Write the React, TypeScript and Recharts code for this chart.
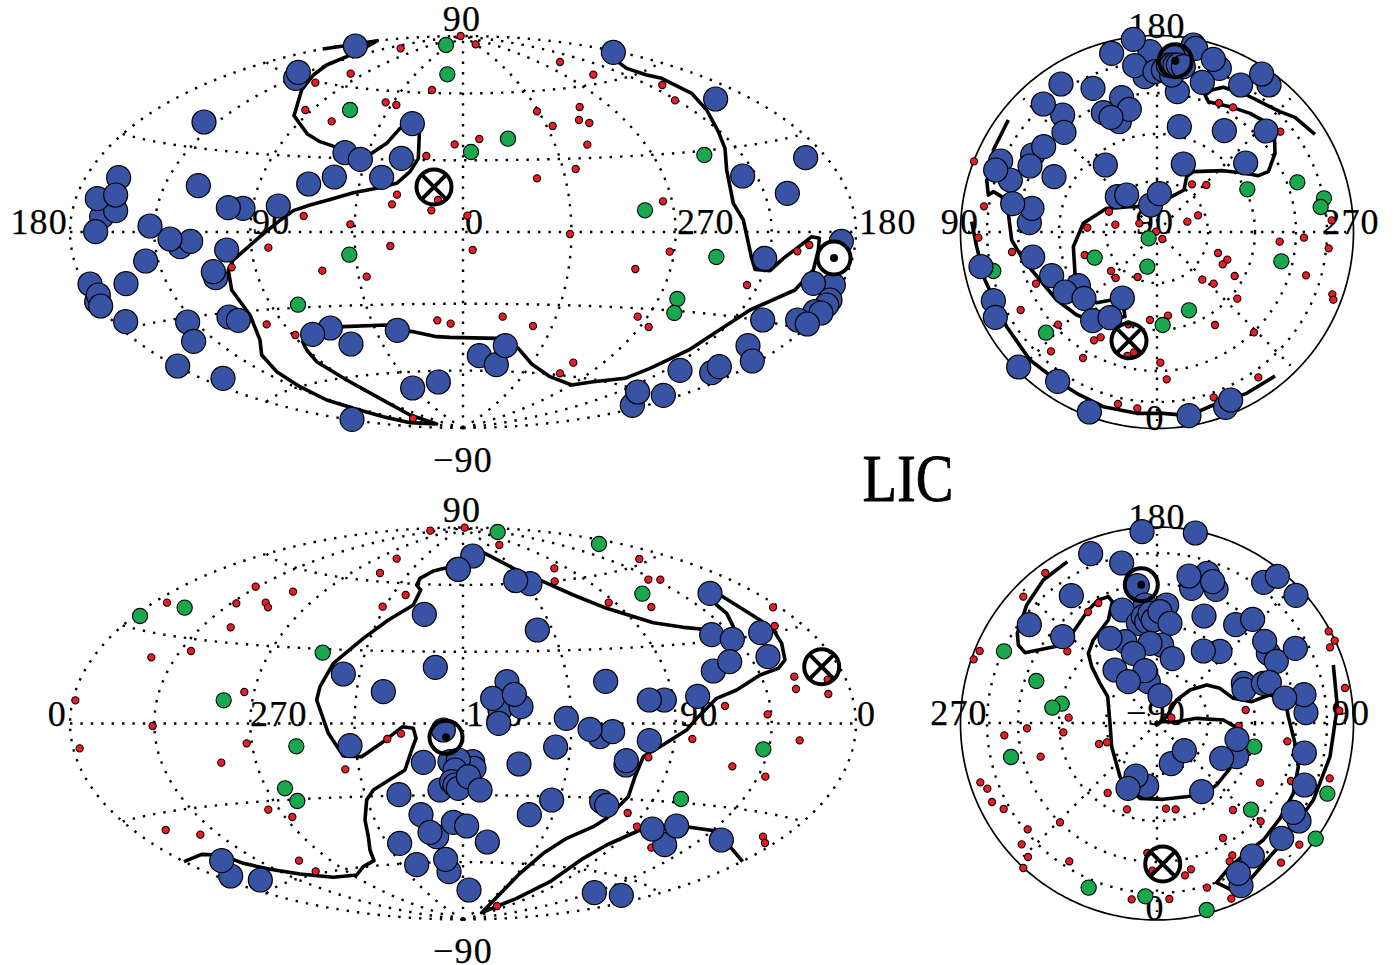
import React from 'react';
import { ScatterChart, Scatter, XAxis, YAxis } from 'recharts';

type P = [number, number];
// All readings below are in units of 1/3 figure pixel, relative to a panel section origin.
const topWestBlue: P[] = [[1066,138],[887,235],[895,217],[612,366],[1237,371],[1035,458],[1081,478],[1204,475],[1145,532],[1003,531],[926,552],[356,533],[305,650],[347,632],[292,596],[347,585],[287,695],[595,557],[729,625],[685,623],[835,618],[450,678],[541,740],[572,724],[510,717],[437,783],[680,750],[647,833],[640,815],[270,852],[378,851],[290,905],[295,885],[302,918],[377,965],[563,966],[687,951],[715,961],[581,1024],[533,1098],[669,1135],[991,984],[938,1003],[1053,1032],[1192,991],[1238,1164],[1315,1146],[1056,1258]];
const topEastBlue: P[] = [[490,157],[797,297],[1067,473],[878,528],[1012,580],[944,775],[1174,724],[1150,855],[1090,850],[1140,900],[1130,915],[1095,935],[1113,939],[938,960],[1043,960],[1072,972],[894,1037],[907,1083],[785,1118],[808,1100],[690,1111],[547,1216],[563,1176],[640,1186],[88,1067],[139,1094],[166,1037]];
const topWestGreen: P[] = [[1338,135],[1342,223],[1050,330],[1048,764],[894,914]];
const topEastGreen: P[] = [[174,416],[63,456],[763,465],[585,631],[799,771],[682,897],[673,939]];
const topWestRed: P[] = [[1382,108],[1202,145],[1052,221],[946,248],[1296,270],[1157,307],[1189,315],[916,330],[995,364],[1364,433],[1279,468],[1191,584],[1176,613],[1314,600],[1294,631],[1402,647],[911,648],[1051,673],[805,743],[1171,738],[695,802],[967,812],[1100,830],[800,973],[886,1005],[1312,961],[1352,971],[1239,1255]];
const topEastRed: P[] = [[77,133],[330,186],[430,224],[637,255],[675,301],[261,334],[389,321],[387,360],[418,369],[308,378],[88,417],[412,434],[377,507],[261,535],[639,604],[360,702],[68,750],[659,755],[556,807],[1042,754],[1078,735],[891,855],[158,950],[249,978],[563,950],[596,981],[370,1088],[330,1120]];
const topWestLine: P[] = [[968,147],[1030,138],[1132,122],[1100,140],[1040,170],[980,195],[940,225],[905,270],[882,347],[922,402],[960,425],[1010,442],[1035,458],[1115,460],[1160,430],[1200,385],[1237,371],[1258,400],[1255,475],[1230,515],[1190,550],[1130,565],[1060,578],[985,600],[930,615],[880,632],[835,665],[780,710],[700,780],[685,810],[695,870],[750,945],[780,1020],[785,1065],[830,1115],[900,1160],[980,1200],[1060,1225],[1150,1250],[1230,1268],[1310,1272],[1230,1245],[1130,1190],[1040,1140],[950,1085],[920,1050],[908,1025],[938,1003],[1030,980],[1160,975],[1192,991],[1240,995],[1310,1010],[1350,1012]];
const topEastLine: P[] = [[0,1012],[140,1015],[166,1037],[205,1045],[245,1092],[300,1130],[365,1155],[430,1145],[525,1135],[600,1105],[720,1048],[800,995],[900,930],[1035,870],[1090,810],[1105,750],[1108,715],[1085,710],[1040,745],[1000,775],[960,812],[915,808],[905,775],[880,660],[850,610],[830,510],[825,445],[805,395],[770,330],[725,280],[635,235],[590,225],[530,205],[490,175]];

const northPolarBlue: P[] = [[545,160],[660,155],[610,118],[790,135],[797,145],[868,205],[850,178],[817,247],[1017,255],[932,255],[995,222],[742,275],[645,230],[614,197],[675,215],[700,210],[725,225],[730,170],[715,195],[725,195],[735,195],[745,195],[760,200],[393,252],[489,265],[398,345],[340,312],[575,293],[568,365],[520,338],[598,328],[543,352],[748,380],[883,392],[1008,393],[402,397],[308,465],[341,440],[526,495],[760,492],[947,489],[212,483],[241,540],[300,498],[197,510],[372,530],[562,590],[590,585],[662,615],[688,581],[298,668],[306,625],[248,611],[308,771],[153,800],[365,827],[445,857],[405,876],[462,895],[577,894],[190,902],[196,952],[488,962],[540,953],[266,1101],[383,1144],[478,1236],[777,1247],[887,1222],[902,1200]];
const northPolarGreen: P[] = [[952,568],[1102,547],[1182,595],[1172,621],[656,715],[494,773],[652,800],[190,813],[1054,784],[777,931],[698,975],[348,998]];
const northPolarRed: P[] = [[867,309],[909,322],[1051,395],[786,553],[829,555],[132,484],[162,619],[537,635],[628,670],[556,674],[472,683],[772,665],[804,646],[1205,661],[145,713],[678,695],[697,717],[1122,713],[1049,725],[1196,745],[246,756],[464,765],[864,759],[892,779],[878,793],[543,813],[557,834],[623,831],[817,839],[851,851],[914,828],[1128,826],[318,851],[1207,883],[1210,899],[922,896],[272,930],[384,974],[595,973],[660,960],[714,947],[855,975],[972,997],[512,1012],[492,1021],[363,1054],[459,1074],[612,1057],[592,1068],[691,1088],[710,1138],[985,1132],[851,1192],[564,1212],[622,1225]];
const northPolarLineA: P[] = [[1155,403],[1095,352],[1050,335],[1000,310],[950,285],[880,262],[845,270],[825,285],[835,305],[900,320],[960,340],[1005,365],[1033,400],[1035,460],[1015,515],[985,527],[947,520],[880,512],[790,515],[770,530],[762,570],[725,590],[688,581],[660,620],[600,620],[530,625],[460,670],[430,740],[435,820],[460,880],[500,908],[577,894],[585,950],[540,953],[488,962],[440,945],[380,900],[330,840],[280,780],[245,720],[235,640],[215,590],[190,575],[175,585],[170,540],[197,510],[190,450],[235,360]];
const northPolarLineB: P[] = [[125,665],[140,740],[165,840],[230,980],[300,1080],[383,1144],[440,1180],[520,1220],[620,1240],[700,1240],[777,1247],[850,1215],[950,1180],[1035,1128]];

const lowWestBlue: P[] = [[1273,373],[1374,238],[1306,532],[1150,605],[1030,552],[1050,767],[1330,720],[1270,817],[1197,914],[1263,974],[1310,1040],[1290,1027],[1360,997],[1199,1060],[1250,1124],[1347,1145],[1337,1108],[692,1158],[665,1112],[781,1170]];
const lowEastBlue: P[] = [[68,198],[25,238],[240,281],[197,272],[262,420],[780,310],[785,434],[847,448],[932,428],[954,500],[790,543],[839,515],[743,619],[467,574],[171,575],[150,660],[213,650],[128,625],[193,613],[146,700],[643,630],[598,630],[349,685],[450,740],[488,725],[420,718],[598,752],[317,771],[207,822],[528,825],[529,812],[455,935],[470,946],[305,930],[238,974],[50,1008],[112,1056],[0,815],[68,815],[72,835],[25,810],[-30,900],[15,840],[5,875],[15,885],[25,895],[55,860],[90,900],[644,1064],[680,1008],[607,1017],[814,1050],[433,1208],[514,1216],[57,1200]];
const lowWestGreen: P[] = [[420,378],[554,353],[968,488],[671,631],[889,769],[855,895],[892,933]];
const lowEastGreen: P[] = [[143,126],[447,162],[577,311],[940,778],[693,927]];
const lowWestRed: P[] = [[1291,122],[1394,113],[1190,206],[1140,249],[879,305],[767,290],[709,340],[797,338],[804,352],[501,338],[692,412],[1217,315],[1148,350],[573,483],[454,502],[733,606],[226,631],[458,708],[239,775],[740,760],[664,818],[1162,747],[1203,731],[1036,838],[805,959],[877,981],[497,1020],[601,1034],[897,1112],[947,1144]];
const lowEastRed: P[] = [[148,165],[313,235],[314,274],[568,207],[595,269],[631,269],[476,338],[604,351],[969,352],[974,408],[1033,560],[1038,597],[1133,569],[1135,612],[825,648],[953,673],[727,747],[1049,751],[595,802],[847,829],[946,860],[533,969],[561,1010],[604,1073],[939,1040],[945,1059],[141,1248]];
const lowWestLine: P[] = [[552,1115],[605,1093],[665,1095],[730,1120],[810,1138],[900,1152],[1000,1162],[1070,1155],[1090,1130],[1122,1112],[1110,1080],[1105,1040],[1095,990],[1100,930],[1120,900],[1215,840],[1235,780],[1248,745],[1240,715],[1208,710],[1150,755],[1085,800],[1030,798],[985,730],[950,630],[960,590],[1000,520],[1090,445],[1165,390],[1240,345],[1262,300],[1250,285],[1260,265],[1300,243],[1374,225],[1418,175]];
const lowEastLine: P[] = [[68,175],[105,190],[190,235],[280,275],[370,315],[470,355],[610,398],[700,412],[785,420],[847,440],[850,410],[830,370],[800,345],[780,310],[815,318],[930,390],[970,420],[995,460],[1005,510],[985,535],[930,555],[860,600],[800,625],[745,680],[710,720],[630,770],[580,800],[555,860],[535,920],[470,985],[430,1010],[350,1045],[280,1090],[210,1150],[95,1268],[200,1225],[300,1175],[400,1105],[470,1065],[570,1020],[607,1017],[680,1008],[720,1012],[814,1025],[840,1070],[878,1115]];

const southPolarBlue: P[] = [[636,125],[796,129],[482,191],[575,219],[622,287],[424,317],[298,404],[398,440],[832,250],[785,295],[858,298],[777,258],[848,275],[1001,277],[1042,259],[1098,316],[822,378],[917,404],[968,388],[645,345],[710,345],[577,360],[625,400],[640,380],[650,395],[660,370],[670,390],[690,365],[720,400],[695,465],[585,455],[540,445],[660,460],[610,490],[727,506],[870,484],[820,483],[1015,490],[1004,454],[1039,514],[1096,475],[655,575],[555,540],[645,542],[595,575],[690,617],[940,580],[942,598],[1000,580],[1018,577],[1128,668],[1122,614],[1064,624],[920,800],[875,805],[921,748],[724,821],[763,782],[1123,789],[1123,885],[650,888],[618,858],[594,895],[815,905],[1107,993],[1090,967],[1055,1045],[967,1098],[933,1187],[925,1150]];
const southPolarGreen: P[] = [[222,484],[319,573],[395,641],[367,653],[243,801],[973,770],[1192,911],[963,959],[1157,1046],[476,1193],[646,1219],[830,1260]];
const southPolarRed: P[] = [[346,249],[280,320],[505,339],[474,366],[149,483],[131,508],[412,484],[1196,424],[1214,452],[1200,472],[1245,594],[1228,662],[947,660],[724,683],[416,683],[291,715],[223,736],[400,727],[507,762],[531,757],[926,708],[1072,754],[332,800],[151,877],[172,896],[186,936],[221,957],[533,909],[591,958],[708,956],[737,958],[909,960],[990,878],[1083,873],[1199,865],[992,994],[390,997],[879,1044],[293,1018],[275,1063],[294,1101],[418,1114],[280,1134],[1108,1064],[1053,1118],[907,1096],[899,1114],[652,1089],[667,1142],[783,1138],[765,1156],[831,1193],[605,1228],[718,1227],[904,1226]];
const southPolarLine: P[] = [[412,215],[340,270],[290,345],[262,430],[265,465],[285,488],[398,465],[430,425],[475,360],[505,330],[535,320],[547,335],[535,390],[490,450],[475,490],[485,530],[510,580],[533,620],[540,700],[545,770],[570,860],[594,895],[630,925],[700,928],[815,915],[860,885],[900,835],[921,748],[915,710],[880,690],[800,685],[740,695],[695,695],[680,705],[710,680],[740,630],[780,600],[830,585],[870,595],[910,625],[965,635],[1018,615],[1064,624],[1075,680],[1095,760],[1105,830],[1090,910],[1050,985],[1000,1050],[960,1080],[900,1130],[860,1178],[925,1210],[985,1140],[1050,1065],[1100,1000],[1150,930],[1200,800],[1222,650],[1210,525]];

const axisLabels = [
  { x: 462, y: 19, t: '90', a: 'middle' }, { x: 68, y: 222, t: '180', a: 'end' }, { x: 252, y: 222, t: '90', a: 'start' },
  { x: 465, y: 222, t: '0', a: 'start' }, { x: 677, y: 222, t: '270', a: 'start' }, { x: 859, y: 222, t: '180', a: 'start' },
  { x: 463, y: 460, t: '−90', a: 'middle' },
  { x: 1157, y: 26, t: '180', a: 'middle' }, { x: 960, y: 222, t: '90', a: 'middle' }, { x: 1155, y: 222, t: '90', a: 'middle' },
  { x: 1351, y: 222, t: '270', a: 'middle' }, { x: 1155, y: 418, t: '0', a: 'middle' },
  { x: 462, y: 510, t: '90', a: 'middle' }, { x: 67, y: 714, t: '0', a: 'end' }, { x: 250, y: 714, t: '270', a: 'start' },
  { x: 466, y: 714, t: '180', a: 'start' }, { x: 680, y: 714, t: '90', a: 'start' }, { x: 857, y: 714, t: '0', a: 'start' },
  { x: 463, y: 951, t: '−90', a: 'middle' },
  { x: 1157, y: 517, t: '180', a: 'middle' }, { x: 959, y: 713, t: '270', a: 'middle' }, { x: 1156, y: 713, t: '−90', a: 'middle' },
  { x: 1351, y: 713, t: '90', a: 'middle' }, { x: 1155, y: 908, t: '0', a: 'middle' },
];
const crossMarks = [{ x: 434, y: 187 }, { x: 1129, y: 340.7 }, { x: 821.7, y: 666.7 }, { x: 1162.7, y: 864 }];
const sunMarksOpen = [{ x: 1175.3, y: 60.7 }, { x: 446, y: 737.3 }, { x: 1141.3, y: 584.7 }];
const sunMarksFilled = [{ x: 834, y: 258 }];

const sec = (pts: P[], ox: number, oy: number) => pts.map(([a, b]) => ({ x: ox + a / 3, y: oy + b / 3 }));

const X1 = 0, X2 = 450, X3 = 930, Y1 = 0, Y2 = 490;
const redAll = [...sec(topWestRed, X1, Y1), ...sec(topEastRed, X2, Y1), ...sec(northPolarRed, X3, Y1), ...sec(lowWestRed, X1, Y2), ...sec(lowEastRed, X2, Y2), ...sec(southPolarRed, X3, Y2)];
const greenAll = [...sec(topWestGreen, X1, Y1), ...sec(topEastGreen, X2, Y1), ...sec(northPolarGreen, X3, Y1), ...sec(lowWestGreen, X1, Y2), ...sec(lowEastGreen, X2, Y2), ...sec(southPolarGreen, X3, Y2)];
const blueAll = [...sec(topWestBlue, X1, Y1), ...sec(topEastBlue, X2, Y1), ...sec(northPolarBlue, X3, Y1), ...sec(lowWestBlue, X1, Y2), ...sec(lowEastBlue, X2, Y2), ...sec(southPolarBlue, X3, Y2)];
const tracks = [
  [...sec(topWestLine, X1, Y1), ...sec(topEastLine, X2, Y1)],
  sec(northPolarLineA, X3, Y1), sec(northPolarLineB, X3, Y1),
  [...sec(lowWestLine, X1, Y2)], sec(lowEastLine, X2, Y2), sec(southPolarLine, X3, Y2),
];

// Map grid geometry (not data): Hammer–Aitoff and equal-area polar graticules.
const D = Math.PI / 180;
const hammer = (lon: number, lat: number, cx: number, cy: number) => {
  const k = Math.sqrt(1 + Math.cos(lat * D) * Math.cos((lon * D) / 2));
  return { x: cx + (393 / 2.828) * (2.828 * Math.cos(lat * D) * Math.sin((lon * D) / 2)) / k, y: cy - (196 / 1.414) * (1.414 * Math.sin(lat * D)) / k };
};
const range = (a: number, b: number, s: number) => { const o: number[] = []; for (let v = a; v <= b + 1e-6; v += s) o.push(v); return o; };
const hammerGrid = (cx: number, cy: number) => [
  ...[-180, -135, -90, -45, 0, 45, 90, 135, 180].map((lon) => range(-90, 90, 2).map((lat) => hammer(lon, lat, cx, cy))),
  ...[-60, -30, 0, 30, 60].map((lat) => range(-180, 180, 3).map((lon) => hammer(lon, lat, cx, cy))),
];
const polarGrid = (cx: number, cy: number) => [
  ...[51, 98, 139, 170].map((r) => range(0, 360, 2).map((t) => ({ x: cx + r * Math.cos(t * D), y: cy + r * Math.sin(t * D) }))),
  ...[0, 45, 90, 135, 180, 225, 270, 315].map((t) => [{ x: cx, y: cy }, { x: cx + 189 * Math.cos(t * D), y: cy + 189 * Math.sin(t * D) }]),
];
const limb = (cx: number, cy: number) => range(0, 360, 1).map((t) => ({ x: cx + 196.5 * Math.cos(t * D), y: cy + 196.5 * Math.sin(t * D) }));

const grid = [...hammerGrid(463, 232), ...hammerGrid(463, 723.5), ...polarGrid(1157, 232), ...polarGrid(1157, 723)];
const limbs = [limb(1157, 232), limb(1157, 723.5)];

const none = () => <g />;
const dot = (r: number, fill: string, sw: number) => (p: any) => <circle cx={p.cx} cy={p.cy} r={r} fill={fill} stroke="#000" strokeWidth={sw} />;
const crossShape = (p: any) => {
  const r = 17.5, q = r * 0.707;
  return (
    <g fill="none" stroke="#000" strokeWidth={4}>
      <circle cx={p.cx} cy={p.cy} r={r} />
      <path d={`M${p.cx - q} ${p.cy - q}L${p.cx + q} ${p.cy + q}M${p.cx - q} ${p.cy + q}L${p.cx + q} ${p.cy - q}`} />
    </g>
  );
};
const sunShape = (fill: string) => (p: any) => (
  <g>
    <circle cx={p.cx} cy={p.cy} r={16.5} fill={fill} stroke="#000" strokeWidth={4} />
    <circle cx={p.cx} cy={p.cy} r={4} fill="#000" />
  </g>
);
const labelShape = (p: any) => (
  <text x={p.payload.x} y={p.cy} textAnchor={p.payload.a} dominantBaseline="central" fontFamily="'Liberation Serif', serif" fontSize={36} letterSpacing={1.2} stroke="#000" strokeWidth={0.25} fill="#000">
    {p.payload.t}
  </text>
);
const titleData = [{ x: 908, y: 478, t: 'LIC' }];
const titleShape = (p: any) => (
  <text x={p.cx} y={p.cy} textAnchor="middle" dominantBaseline="central" fontFamily="'Liberation Serif', serif" fontSize={68} textLength={91} lengthAdjust="spacingAndGlyphs" stroke="#000" strokeWidth={0.8} fill="#000">
    {p.payload.t}
  </text>
);

export default function App() {
  return (
    <div style={{ position: 'absolute', left: 0, top: 0, background: '#fff' }}>
      <ScatterChart width={1395} height={965} margin={{ top: 0, right: 0, bottom: 0, left: 0 }}>
        <XAxis type="number" dataKey="x" domain={[0, 1395]} hide />
        <YAxis type="number" dataKey="y" domain={[0, 965]} reversed hide />
        <Scatter data={axisLabels} shape={labelShape} isAnimationActive={false} />
        <Scatter data={titleData} shape={titleShape} isAnimationActive={false} />
        {grid.map((g, i) => (
          <Scatter key={'g' + i} data={g} shape={none} line={{ stroke: '#000', strokeWidth: 2.4, strokeDasharray: '2.4 8', fill: 'none' }} isAnimationActive={false} />
        ))}
        {limbs.map((g, i) => (
          <Scatter key={'l' + i} data={g} shape={none} line={{ stroke: '#000', strokeWidth: 1.7, fill: 'none' }} isAnimationActive={false} />
        ))}
        {tracks.map((g, i) => (
          <Scatter key={'t' + i} data={g} shape={none} line={{ stroke: '#000', strokeWidth: 3.6, fill: 'none', strokeLinejoin: 'round' }} isAnimationActive={false} />
        ))}
        <Scatter data={redAll} shape={dot(3.6, '#ed1c24', 1.1)} isAnimationActive={false} />
        <Scatter data={greenAll} shape={dot(7.6, '#1aa84f', 1.1)} isAnimationActive={false} />
        <Scatter data={blueAll} shape={dot(12, '#3953a4', 1.2)} isAnimationActive={false} />
        <Scatter data={sunMarksOpen} shape={sunShape('none')} isAnimationActive={false} />
        <Scatter data={sunMarksFilled} shape={sunShape('#fff')} isAnimationActive={false} />
        <Scatter data={crossMarks} shape={crossShape} isAnimationActive={false} />
      </ScatterChart>
    </div>
  );
}
